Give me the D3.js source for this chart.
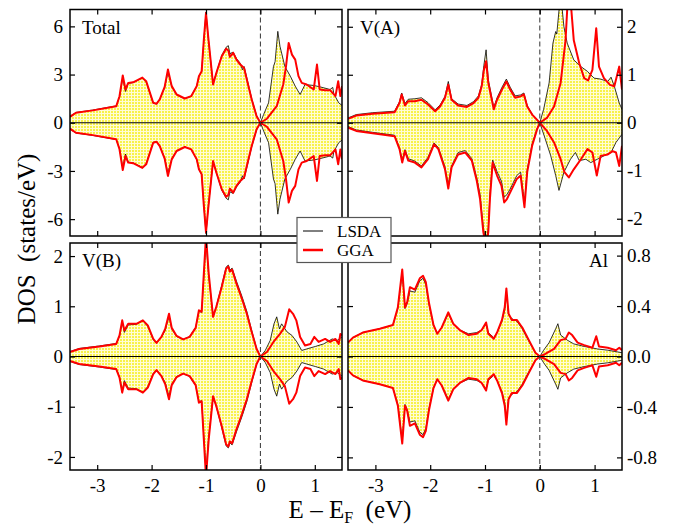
<!DOCTYPE html>
<html>
<head>
<meta charset="utf-8">
<script src="https://d3js.org/d3.v7.min.js"></script>
<style>
  body { margin: 0; background: white; }
  text { font-family: "Liberation Serif", "Times New Roman", serif; fill: black; }
</style>
</head>
<body>
<div id="chartsdiv"></div>
<script>

// ---- data: [E - E_F (eV), DOS (states/eV)], spin-down plotted negative ----
const energyTicks = [-3, -2, -1, 0, 1];
const energyRange = [-3.5, 1.5];

const totalLsdaUp = [[-3.5,0.4],[-3.39,0.64],[-3.08,0.79],[-2.65,1.05],[-2.59,1.6],[-2.53,2.8],[-2.48,1.95],[-2.43,2.45],[-2.34,2.5],[-2.17,2.78],[-2.1,2.55],[-1.97,1.22],[-1.91,1.17],[-1.85,1.45],[-1.76,2.2],[-1.7,3.15],[-1.63,2.25],[-1.54,1.74],[-1.39,1.5],[-1.27,1.66],[-1.17,2.3],[-1.13,2.9],[-1.08,3.2],[-1.04,5.1],[-1.0,6.9],[-0.96,5.3],[-0.87,2.45],[-0.81,3.1],[-0.71,4.2],[-0.63,4.7],[-0.59,4.8],[-0.56,4.3],[-0.5,4.4],[-0.44,4.0],[-0.37,3.7],[-0.33,3.3],[-0.3,3.5],[-0.25,2.8],[-0.16,1.5],[-0.07,0.45],[0,0],[0.06,0.52],[0.15,1.24],[0.24,3.5],[0.27,3.8],[0.32,5.69],[0.36,4.76],[0.45,3.5],[0.55,2.9],[0.64,2.28],[0.73,1.76],[0.82,2.38],[0.98,2.32],[1.1,2.23],[1.25,2.1],[1.28,2.07],[1.33,2.2],[1.35,1.8],[1.44,1.24],[1.5,1.08]];
const totalGgaUp = [[-3.5,0.37],[-3.39,0.62],[-3.08,0.77],[-2.65,1.03],[-2.59,1.65],[-2.53,2.94],[-2.48,2.07],[-2.43,2.48],[-2.34,2.52],[-2.17,2.81],[-2.1,2.59],[-1.97,1.24],[-1.91,1.18],[-1.85,1.45],[-1.76,2.23],[-1.7,3.31],[-1.63,2.28],[-1.54,1.76],[-1.39,1.51],[-1.27,1.66],[-1.17,2.28],[-1.13,2.9],[-1.08,3.2],[-1.04,5.17],[-1.0,6.83],[-0.96,5.38],[-0.87,2.38],[-0.81,3.1],[-0.71,4.14],[-0.63,4.61],[-0.59,4.5],[-0.56,4.1],[-0.5,4.35],[-0.44,3.93],[-0.37,3.62],[-0.3,3.41],[-0.25,2.69],[-0.16,1.45],[-0.07,0.41],[0,0],[0.12,0.25],[0.3,1.03],[0.42,2.38],[0.47,3.5],[0.52,4.97],[0.58,4.24],[0.64,3.93],[0.7,2.9],[0.76,2.48],[0.85,2.38],[0.98,2.07],[1.04,3.62],[1.09,2.07],[1.19,2.03],[1.28,2.03],[1.38,1.66],[1.43,2.59],[1.47,1.66],[1.5,2.28]];
const totalLsdaDn = [[-3.5,-0.4],[-3.39,-0.64],[-3.08,-0.79],[-2.65,-1.05],[-2.59,-1.6],[-2.53,-2.8],[-2.48,-1.95],[-2.43,-2.45],[-2.34,-2.5],[-2.17,-2.78],[-2.1,-2.55],[-1.97,-1.22],[-1.91,-1.17],[-1.85,-1.45],[-1.76,-2.2],[-1.7,-3.15],[-1.63,-2.25],[-1.54,-1.74],[-1.39,-1.5],[-1.27,-1.66],[-1.17,-2.3],[-1.13,-2.9],[-1.08,-3.2],[-1.04,-5.1],[-1.0,-6.9],[-0.96,-5.3],[-0.87,-2.45],[-0.81,-3.1],[-0.71,-4.2],[-0.63,-4.7],[-0.59,-4.8],[-0.56,-4.3],[-0.5,-4.4],[-0.44,-4.0],[-0.37,-3.7],[-0.33,-3.3],[-0.3,-3.5],[-0.25,-2.8],[-0.16,-1.5],[-0.07,-0.45],[0,0],[0.06,-0.52],[0.15,-1.24],[0.24,-3.5],[0.27,-3.8],[0.32,-5.69],[0.36,-4.76],[0.45,-3.5],[0.55,-2.9],[0.64,-2.28],[0.73,-1.76],[0.82,-2.38],[0.98,-2.32],[1.1,-2.23],[1.25,-2.1],[1.28,-2.07],[1.33,-2.2],[1.35,-1.8],[1.44,-1.24],[1.5,-1.08]];
const totalGgaDn = [[-3.5,-0.37],[-3.39,-0.62],[-3.08,-0.77],[-2.65,-1.03],[-2.59,-1.65],[-2.53,-2.94],[-2.48,-2.07],[-2.43,-2.48],[-2.34,-2.52],[-2.17,-2.81],[-2.1,-2.59],[-1.97,-1.24],[-1.91,-1.18],[-1.85,-1.45],[-1.76,-2.23],[-1.7,-3.31],[-1.63,-2.28],[-1.54,-1.76],[-1.39,-1.51],[-1.27,-1.66],[-1.17,-2.28],[-1.13,-2.9],[-1.08,-3.2],[-1.04,-5.17],[-1.0,-6.83],[-0.96,-5.38],[-0.87,-2.38],[-0.81,-3.1],[-0.71,-4.14],[-0.63,-4.61],[-0.59,-4.5],[-0.56,-4.1],[-0.5,-4.35],[-0.44,-3.93],[-0.37,-3.62],[-0.3,-3.41],[-0.25,-2.69],[-0.16,-1.45],[-0.07,-0.41],[0,0],[0.12,-0.25],[0.3,-1.03],[0.42,-2.38],[0.47,-3.5],[0.52,-4.97],[0.58,-4.24],[0.64,-3.93],[0.7,-2.9],[0.76,-2.48],[0.85,-2.38],[0.98,-2.07],[1.04,-3.62],[1.09,-2.07],[1.19,-2.03],[1.28,-2.03],[1.38,-1.66],[1.43,-2.59],[1.47,-1.66],[1.5,-2.28]];

const vaLsdaUp = [[-3.5,0.1],[-3.35,0.17],[-3.05,0.21],[-2.65,0.24],[-2.56,0.44],[-2.52,0.62],[-2.46,0.4],[-2.4,0.49],[-2.28,0.5],[-2.16,0.52],[-2.04,0.42],[-1.91,0.27],[-1.82,0.37],[-1.73,0.55],[-1.67,0.86],[-1.61,0.5],[-1.49,0.39],[-1.33,0.36],[-1.21,0.44],[-1.12,0.56],[-1.06,0.8],[-1.02,1.2],[-0.98,1.52],[-0.94,0.9],[-0.84,0.32],[-0.78,0.52],[-0.69,0.74],[-0.61,0.91],[-0.54,0.74],[-0.45,0.56],[-0.35,0.58],[-0.29,0.62],[-0.23,0.36],[-0.14,0.18],[0,0],[0.07,0.28],[0.17,0.83],[0.24,1.66],[0.29,1.9],[0.31,1.85],[0.38,2.7],[0.44,2.0],[0.5,1.66],[0.62,1.31],[0.75,1.17],[0.87,1.07],[0.99,0.93],[1.11,0.91],[1.24,0.86],[1.3,0.95],[1.36,0.76],[1.45,0.41],[1.5,0.28]];
const vaGgaUp = [[-3.5,0.08],[-3.35,0.15],[-3.05,0.19],[-2.65,0.22],[-2.56,0.41],[-2.52,0.59],[-2.46,0.36],[-2.4,0.45],[-2.28,0.45],[-2.16,0.48],[-2.04,0.38],[-1.91,0.24],[-1.82,0.34],[-1.73,0.52],[-1.67,0.79],[-1.61,0.48],[-1.49,0.36],[-1.33,0.33],[-1.21,0.41],[-1.12,0.52],[-1.06,0.76],[-1.02,1.1],[-0.98,1.28],[-0.94,0.83],[-0.84,0.28],[-0.78,0.48],[-0.69,0.69],[-0.61,0.86],[-0.54,0.69],[-0.45,0.52],[-0.35,0.55],[-0.29,0.59],[-0.23,0.34],[-0.14,0.17],[0,0],[0.13,0.1],[0.26,0.34],[0.38,0.83],[0.47,1.72],[0.53,3.0],[0.62,1.72],[0.72,1.24],[0.81,0.93],[0.88,0.88],[0.96,1.1],[1.03,1.97],[1.08,1.17],[1.17,0.93],[1.28,0.79],[1.36,0.76],[1.45,1.17],[1.5,0.69]];
const vaLsdaDn = [[-3.5,-0.08],[-3.35,-0.15],[-3.05,-0.2],[-2.65,-0.26],[-2.56,-0.52],[-2.51,-0.78],[-2.46,-0.56],[-2.4,-0.75],[-2.28,-0.8],[-2.16,-0.9],[-2.04,-0.72],[-1.93,-0.42],[-1.85,-0.52],[-1.73,-0.92],[-1.67,-1.3],[-1.61,-0.9],[-1.49,-0.62],[-1.36,-0.58],[-1.24,-0.75],[-1.15,-1.15],[-1.09,-1.5],[-1.03,-2.2],[-0.98,-2.5],[-0.94,-2.2],[-0.91,-1.5],[-0.86,-0.78],[-0.78,-1.02],[-0.7,-1.22],[-0.65,-1.55],[-0.6,-1.5],[-0.54,-1.38],[-0.48,-1.24],[-0.42,-1.1],[-0.35,-1.03],[-0.28,-1.68],[-0.23,-0.98],[-0.14,-0.44],[-0.05,-0.12],[0,0],[0.1,-0.34],[0.2,-0.69],[0.29,-1.1],[0.35,-1.41],[0.44,-1.03],[0.56,-0.76],[0.65,-0.62],[0.72,-0.79],[0.84,-0.76],[0.93,-0.83],[1.05,-0.76],[1.17,-0.69],[1.3,-0.62],[1.39,-0.41],[1.5,-0.24]];
const vaGgaDn = [[-3.5,-0.1],[-3.35,-0.17],[-3.05,-0.22],[-2.65,-0.28],[-2.56,-0.55],[-2.51,-0.83],[-2.46,-0.59],[-2.4,-0.79],[-2.28,-0.83],[-2.16,-0.93],[-2.04,-0.76],[-1.93,-0.45],[-1.85,-0.55],[-1.73,-0.97],[-1.67,-1.37],[-1.61,-0.93],[-1.49,-0.66],[-1.36,-0.62],[-1.24,-0.79],[-1.15,-1.21],[-1.09,-1.59],[-1.03,-2.28],[-0.98,-2.6],[-0.94,-2.28],[-0.91,-1.59],[-0.86,-0.83],[-0.78,-1.1],[-0.7,-1.31],[-0.65,-1.66],[-0.6,-1.59],[-0.54,-1.45],[-0.48,-1.31],[-0.42,-1.17],[-0.35,-1.1],[-0.28,-1.76],[-0.23,-1.03],[-0.14,-0.48],[-0.05,-0.14],[0,0],[0.13,-0.17],[0.26,-0.41],[0.38,-0.76],[0.45,-1.03],[0.53,-1.14],[0.62,-0.97],[0.75,-0.76],[0.87,-0.55],[0.96,-0.62],[1.04,-1.1],[1.11,-0.69],[1.24,-0.66],[1.33,-0.59],[1.39,-0.62],[1.45,-0.9],[1.5,-0.48]];

const vbLsdaUp = [[-3.5,0.1],[-3.33,0.16],[-2.96,0.21],[-2.65,0.26],[-2.59,0.4],[-2.54,0.68],[-2.5,0.48],[-2.43,0.63],[-2.28,0.64],[-2.16,0.71],[-2.07,0.6],[-1.97,0.34],[-1.91,0.27],[-1.82,0.38],[-1.75,0.52],[-1.68,0.8],[-1.63,0.55],[-1.54,0.4],[-1.42,0.34],[-1.3,0.4],[-1.19,0.58],[-1.13,0.9],[-1.08,0.88],[-1.04,1.6],[-1.0,2.3],[-0.95,1.6],[-0.87,0.8],[-0.81,1.0],[-0.71,1.42],[-0.63,1.78],[-0.59,1.82],[-0.56,1.72],[-0.52,1.76],[-0.44,1.5],[-0.34,1.2],[-0.25,0.9],[-0.16,0.52],[-0.07,0.16],[0,0],[0.09,0.12],[0.18,0.32],[0.25,0.65],[0.3,0.79],[0.35,0.55],[0.39,0.65],[0.49,0.49],[0.58,0.42],[0.67,0.29],[0.76,0.12],[0.85,0.15],[1.01,0.2],[1.16,0.25],[1.32,0.35],[1.41,0.32],[1.5,0.39]];
const vbGgaUp = [[-3.5,0.09],[-3.33,0.15],[-2.96,0.2],[-2.65,0.25],[-2.59,0.42],[-2.54,0.72],[-2.5,0.52],[-2.43,0.65],[-2.28,0.65],[-2.16,0.72],[-2.07,0.62],[-1.97,0.35],[-1.91,0.27],[-1.82,0.39],[-1.75,0.55],[-1.68,0.85],[-1.63,0.57],[-1.54,0.41],[-1.42,0.34],[-1.3,0.39],[-1.19,0.57],[-1.13,0.92],[-1.08,0.89],[-1.04,1.65],[-1.0,2.4],[-0.95,1.65],[-0.87,0.79],[-0.81,0.99],[-0.71,1.39],[-0.63,1.75],[-0.59,1.79],[-0.56,1.69],[-0.52,1.73],[-0.44,1.45],[-0.34,1.15],[-0.25,0.85],[-0.16,0.49],[-0.07,0.15],[0,0],[0.12,0.09],[0.24,0.29],[0.36,0.45],[0.45,0.59],[0.53,0.94],[0.6,0.85],[0.66,0.72],[0.73,0.39],[0.82,0.22],[0.92,0.25],[0.99,0.39],[1.07,0.29],[1.19,0.35],[1.28,0.29],[1.38,0.35],[1.44,0.25],[1.47,0.45],[1.5,0.42]];
const vbLsdaDn = [[-3.5,-0.1],[-3.33,-0.16],[-2.96,-0.21],[-2.65,-0.26],[-2.59,-0.4],[-2.54,-0.68],[-2.5,-0.48],[-2.43,-0.63],[-2.28,-0.64],[-2.16,-0.71],[-2.07,-0.6],[-1.97,-0.34],[-1.91,-0.27],[-1.82,-0.38],[-1.75,-0.52],[-1.68,-0.8],[-1.63,-0.55],[-1.54,-0.4],[-1.42,-0.34],[-1.3,-0.4],[-1.19,-0.58],[-1.13,-0.9],[-1.08,-0.88],[-1.04,-1.6],[-1.0,-2.3],[-0.95,-1.6],[-0.87,-0.8],[-0.81,-1.0],[-0.71,-1.42],[-0.63,-1.78],[-0.59,-1.82],[-0.56,-1.72],[-0.52,-1.76],[-0.44,-1.5],[-0.34,-1.2],[-0.25,-0.9],[-0.16,-0.52],[-0.07,-0.16],[0,0],[0.09,-0.12],[0.18,-0.32],[0.25,-0.65],[0.3,-0.79],[0.35,-0.55],[0.39,-0.65],[0.49,-0.49],[0.58,-0.42],[0.67,-0.29],[0.76,-0.12],[0.85,-0.15],[1.01,-0.2],[1.16,-0.25],[1.32,-0.35],[1.41,-0.32],[1.5,-0.39]];
const vbGgaDn = [[-3.5,-0.09],[-3.33,-0.15],[-2.96,-0.2],[-2.65,-0.25],[-2.59,-0.42],[-2.54,-0.72],[-2.5,-0.52],[-2.43,-0.65],[-2.28,-0.65],[-2.16,-0.72],[-2.07,-0.62],[-1.97,-0.35],[-1.91,-0.27],[-1.82,-0.39],[-1.75,-0.55],[-1.68,-0.85],[-1.63,-0.57],[-1.54,-0.41],[-1.42,-0.34],[-1.3,-0.39],[-1.19,-0.57],[-1.13,-0.92],[-1.08,-0.89],[-1.04,-1.65],[-1.0,-2.4],[-0.95,-1.65],[-0.87,-0.79],[-0.81,-0.99],[-0.71,-1.39],[-0.63,-1.75],[-0.59,-1.79],[-0.56,-1.69],[-0.52,-1.73],[-0.44,-1.45],[-0.34,-1.15],[-0.25,-0.85],[-0.16,-0.49],[-0.07,-0.15],[0,0],[0.12,-0.09],[0.24,-0.29],[0.36,-0.45],[0.45,-0.59],[0.53,-0.94],[0.6,-0.85],[0.66,-0.72],[0.73,-0.39],[0.82,-0.22],[0.92,-0.25],[0.99,-0.39],[1.07,-0.29],[1.19,-0.35],[1.28,-0.29],[1.38,-0.35],[1.44,-0.25],[1.47,-0.45],[1.5,-0.42]];

const alLsdaUp = [[-3.5,0.11],[-3.41,0.15],[-3.23,0.19],[-2.92,0.22],[-2.68,0.25],[-2.59,0.38],[-2.51,0.67],[-2.46,0.38],[-2.42,0.42],[-2.37,0.52],[-2.28,0.51],[-2.19,0.6],[-2.13,0.62],[-2.08,0.57],[-2.02,0.41],[-1.94,0.25],[-1.87,0.18],[-1.79,0.23],[-1.71,0.3],[-1.67,0.34],[-1.58,0.26],[-1.46,0.21],[-1.3,0.18],[-1.15,0.19],[-1.06,0.21],[-0.98,0.26],[-0.94,0.19],[-0.84,0.15],[-0.78,0.19],[-0.69,0.28],[-0.64,0.37],[-0.61,0.5],[-0.57,0.33],[-0.51,0.3],[-0.42,0.28],[-0.32,0.22],[-0.2,0.12],[-0.08,0.03],[0,0],[0.07,0.05],[0.17,0.11],[0.29,0.22],[0.33,0.26],[0.38,0.17],[0.5,0.13],[0.62,0.1],[0.81,0.08],[1.05,0.06],[1.24,0.05],[1.5,0.03]];
const alGgaUp = [[-3.5,0.11],[-3.41,0.15],[-3.23,0.19],[-2.92,0.22],[-2.68,0.25],[-2.59,0.39],[-2.51,0.69],[-2.46,0.39],[-2.42,0.43],[-2.37,0.55],[-2.28,0.53],[-2.19,0.62],[-2.13,0.64],[-2.08,0.59],[-2.02,0.42],[-1.94,0.25],[-1.87,0.18],[-1.79,0.23],[-1.71,0.31],[-1.67,0.35],[-1.58,0.26],[-1.46,0.21],[-1.3,0.17],[-1.15,0.18],[-1.06,0.21],[-0.98,0.27],[-0.94,0.18],[-0.84,0.14],[-0.78,0.19],[-0.69,0.29],[-0.64,0.39],[-0.61,0.54],[-0.57,0.34],[-0.51,0.29],[-0.42,0.29],[-0.32,0.23],[-0.2,0.13],[-0.08,0.03],[0,0],[0.1,0.02],[0.26,0.06],[0.38,0.13],[0.47,0.14],[0.53,0.19],[0.59,0.17],[0.69,0.11],[0.81,0.09],[0.96,0.07],[1.03,0.16],[1.08,0.08],[1.24,0.07],[1.39,0.05],[1.45,0.07],[1.5,0.05]];
const alLsdaDn = [[-3.5,-0.11],[-3.41,-0.15],[-3.23,-0.19],[-2.92,-0.22],[-2.68,-0.25],[-2.59,-0.38],[-2.51,-0.67],[-2.46,-0.38],[-2.42,-0.42],[-2.37,-0.52],[-2.28,-0.51],[-2.19,-0.6],[-2.13,-0.62],[-2.08,-0.57],[-2.02,-0.41],[-1.94,-0.25],[-1.87,-0.18],[-1.79,-0.23],[-1.71,-0.3],[-1.67,-0.34],[-1.58,-0.26],[-1.46,-0.21],[-1.3,-0.18],[-1.15,-0.19],[-1.06,-0.21],[-0.98,-0.26],[-0.94,-0.19],[-0.84,-0.15],[-0.78,-0.19],[-0.69,-0.28],[-0.64,-0.37],[-0.61,-0.5],[-0.57,-0.33],[-0.51,-0.3],[-0.42,-0.28],[-0.32,-0.22],[-0.2,-0.12],[-0.08,-0.03],[0,0],[0.07,-0.05],[0.17,-0.11],[0.29,-0.22],[0.33,-0.26],[0.38,-0.17],[0.5,-0.13],[0.62,-0.1],[0.81,-0.08],[1.05,-0.06],[1.24,-0.05],[1.5,-0.03]];
const alGgaDn = [[-3.5,-0.11],[-3.41,-0.15],[-3.23,-0.19],[-2.92,-0.22],[-2.68,-0.25],[-2.59,-0.39],[-2.51,-0.69],[-2.46,-0.39],[-2.42,-0.43],[-2.37,-0.55],[-2.28,-0.53],[-2.19,-0.62],[-2.13,-0.64],[-2.08,-0.59],[-2.02,-0.42],[-1.94,-0.25],[-1.87,-0.18],[-1.79,-0.23],[-1.71,-0.31],[-1.67,-0.35],[-1.58,-0.26],[-1.46,-0.21],[-1.3,-0.17],[-1.15,-0.18],[-1.06,-0.21],[-0.98,-0.27],[-0.94,-0.18],[-0.84,-0.14],[-0.78,-0.19],[-0.69,-0.29],[-0.64,-0.39],[-0.61,-0.54],[-0.57,-0.34],[-0.51,-0.29],[-0.42,-0.29],[-0.32,-0.23],[-0.2,-0.13],[-0.08,-0.03],[0,0],[0.1,-0.02],[0.26,-0.06],[0.38,-0.13],[0.47,-0.14],[0.53,-0.19],[0.59,-0.17],[0.69,-0.11],[0.81,-0.09],[0.96,-0.07],[1.03,-0.16],[1.08,-0.08],[1.24,-0.07],[1.39,-0.05],[1.45,-0.07],[1.5,-0.05]];

const panelNames = ["Total", "V(A)", "V(B)", "Al"];
const panelYMax = [7.05, 2.36, 2.26, 0.9];
const panelYTicks = [[-6, -3, 0, 3, 6], [-2, -1, 0, 1, 2], [-2, -1, 0, 1, 2], [-0.8, -0.4, 0, 0.4, 0.8]];

// ---- layout ----
const width = 679, height = 528;
const colX = [[70, 342], [348, 622]];
const rowY = [[9.5, 236], [243, 470]];
const colorLsda = "black";
const colorGga = "#ff0000";

const svg = d3.select("#chartsdiv")
    .append("svg")
    .attr("width", width)
    .attr("height", height);

// dotted yellow fill
const defs = svg.append("defs");
const pat = defs.append("pattern")
    .attr("id", "dots")
    .attr("patternUnits", "userSpaceOnUse")
    .attr("width", 3).attr("height", 3);
pat.append("rect").attr("width", 3).attr("height", 3).attr("fill", "#fffcd6");
pat.append("rect").attr("width", 2).attr("height", 2).attr("fill", "#f8f24a");

// plain hyphen minus like the original
var hyph = function(f) { return function(v) { return f(v).replace("\u2212", "-"); }; };

const panels = [
    { lsdaUp: totalLsdaUp, lsdaDn: totalLsdaDn, ggaUp: totalGgaUp, ggaDn: totalGgaDn },
    { lsdaUp: vaLsdaUp, lsdaDn: vaLsdaDn, ggaUp: vaGgaUp, ggaDn: vaGgaDn },
    { lsdaUp: vbLsdaUp, lsdaDn: vbLsdaDn, ggaUp: vbGgaUp, ggaDn: vbGgaDn },
    { lsdaUp: alLsdaUp, lsdaDn: alLsdaDn, ggaUp: alGgaUp, ggaDn: alGgaDn }
];

panels.forEach(function(p, i) {
    var col = i % 2, row = Math.floor(i / 2);
    var x0 = colX[col][0], x1 = colX[col][1];
    var y0 = rowY[row][0], y1 = rowY[row][1];

    var x = d3.scaleLinear().domain(energyRange).range([x0, x1]);
    var y = d3.scaleLinear().domain([-panelYMax[i], panelYMax[i]]).range([y1, y0]);

    defs.append("clipPath").attr("id", "clip" + i)
        .append("rect")
        .attr("x", x0).attr("y", y0)
        .attr("width", x1 - x0).attr("height", y1 - y0);

    var g = svg.append("g").attr("clip-path", "url(#clip" + i + ")");

    var area = d3.area().x(d => x(d[0])).y0(y(0)).y1(d => y(d[1]));
    var line = d3.line().x(d => x(d[0])).y(d => y(d[1]));

    [p.lsdaUp, p.lsdaDn].forEach(function(s) {
        g.append("path").attr("d", area(s)).attr("fill", "url(#dots)");
    });
    [p.lsdaUp, p.lsdaDn].forEach(function(s) {
        g.append("path").attr("d", line(s))
            .attr("fill", "none").attr("stroke", colorLsda).attr("stroke-width", 0.8);
    });
    [p.ggaUp, p.ggaDn].forEach(function(s) {
        g.append("path").attr("d", line(s))
            .attr("fill", "none").attr("stroke", colorGga).attr("stroke-width", 2)
            .attr("stroke-linejoin", "round");
    });

    // zero line and Fermi level
    g.append("line")
        .attr("x1", x0).attr("x2", x1).attr("y1", y(0)).attr("y2", y(0))
        .attr("stroke", "black").attr("stroke-width", 1.2);
    g.append("line")
        .attr("x1", x(0)).attr("x2", x(0)).attr("y1", y0).attr("y2", y1)
        .attr("stroke", "#333").attr("stroke-width", 1).attr("stroke-dasharray", "5,3");

    // axes, ticks pointing inward
    var fmtY = hyph((i === 3) ? d3.format(".1f") : d3.format("d"));
    var bottom = svg.append("g").attr("transform", "translate(0," + y1 + ")")
        .call(d3.axisBottom(x).tickValues(energyTicks).tickSize(-5).tickPadding(9)
            .tickFormat(row === 1 ? hyph(d3.format("d")) : ""));
    var top = svg.append("g").attr("transform", "translate(0," + y0 + ")")
        .call(d3.axisTop(x).tickValues(energyTicks).tickSize(-5).tickFormat(""));
    var left = svg.append("g").attr("transform", "translate(" + x0 + ",0)")
        .call(d3.axisLeft(y).tickValues(panelYTicks[i]).tickSize(-5).tickPadding(7)
            .tickFormat(col === 0 ? fmtY : ""));
    var right = svg.append("g").attr("transform", "translate(" + x1 + ",0)")
        .call(d3.axisRight(y).tickValues(panelYTicks[i]).tickSize(-5).tickPadding(5)
            .tickFormat(col === 1 ? fmtY : ""));
    [bottom, top, left, right].forEach(function(a) {
        a.select(".domain").remove();
        a.selectAll(".tick line").attr("stroke", "black").attr("stroke-width", 1.2);
        a.selectAll(".tick text")
            .style("font-family", "'Liberation Serif', serif")
            .style("font-size", "19px")
            .attr("fill", "black");
    });

    svg.append("rect")
        .attr("x", x0).attr("y", y0)
        .attr("width", x1 - x0).attr("height", y1 - y0)
        .attr("fill", "none").attr("stroke", "black").attr("stroke-width", 1.5);

    // panel label
    var lbl = svg.append("text")
        .style("font-size", "19px")
        .attr("y", y0 + 24)
        .text(panelNames[i]);
    if (i === 3) {
        lbl.attr("x", x1 - 14).attr("text-anchor", "end");
    } else {
        lbl.attr("x", x0 + 12);
    }
});

// axis titles
svg.append("text")
    .attr("transform", "translate(35,239) rotate(-90)")
    .attr("text-anchor", "middle")
    .style("font-size", "25px")
    .text("DOS\u2002(states/eV)");

var xt = svg.append("text")
    .attr("x", 350).attr("y", 518)
    .attr("text-anchor", "middle")
    .style("font-size", "25px");
xt.append("tspan").text("E \u2013 E");
xt.append("tspan").attr("dy", 5).style("font-size", "16px").text("F");
xt.append("tspan").attr("dy", -5).text("\u2002(eV)");

// legend
const legendNames = ["LSDA", "GGA"];
const legendColors = [colorLsda, colorGga];
const legendWidths = [1, 2.5];
const leg = svg.append("g");
leg.append("rect")
    .attr("x", 297).attr("y", 217.5).attr("width", 94).attr("height", 45)
    .attr("fill", "white").attr("stroke", "#555").attr("stroke-width", 1.2);
legendNames.forEach(function(n, k) {
    var ly = 231 + k * 19;
    leg.append("line")
        .attr("x1", 303).attr("x2", 323).attr("y1", ly).attr("y2", ly)
        .attr("stroke", legendColors[k]).attr("stroke-width", legendWidths[k]);
    leg.append("text")
        .attr("x", 337).attr("y", ly + 6)
        .style("font-size", "17px")
        .text(n);
});

</script>
</body>
</html>
